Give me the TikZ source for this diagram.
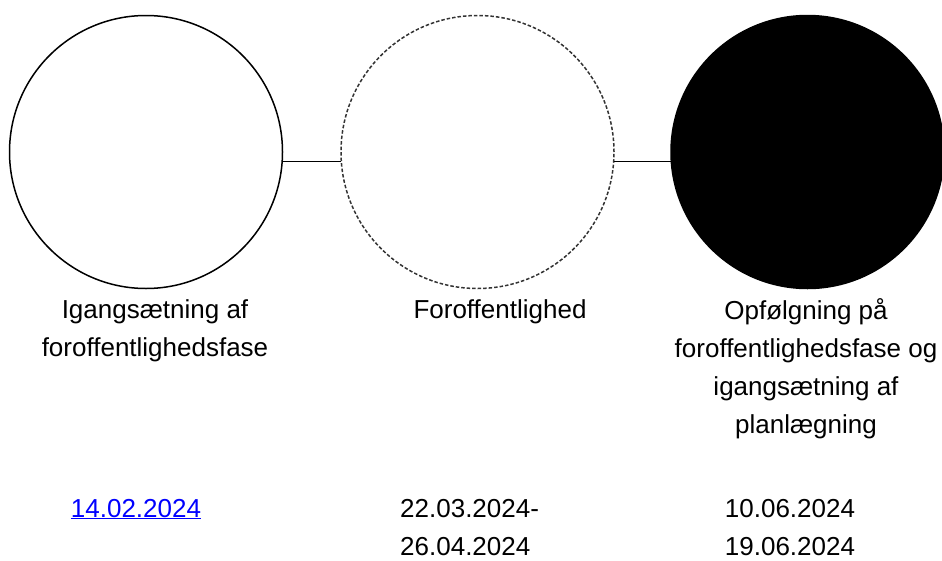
\documentclass[tikz,border=0pt]{standalone}
\usepackage{fontspec}
\setmainfont{Liberation Sans}
\definecolor{linkblue}{RGB}{0,0,255}
\begin{document}
\begin{tikzpicture}[x=1pt,y=-1pt,
  phase/.style={circle,minimum size=273pt,inner sep=0pt,line width=1.5pt},
  conn/.style={line width=1.5pt},
  lbl/.style={font=\fontsize{26}{37.7}\selectfont,inner sep=0pt,align=center,anchor=base},
  datelbl/.style={font=\fontsize{26}{38}\selectfont,inner sep=0pt,anchor=base}]
\useasboundingbox (0,0) rectangle (942,560);
\node[phase,draw=black] (c1) at (146,152) {};
\node[phase,draw=black!80,dash pattern=on 3.5pt off 2pt] (c2) at (477.5,152) {};
\node[phase,draw=black,fill=black] (c3) at (807.5,152) {};
\draw[conn] (c1.-4) -- (c2.184);
\draw[conn] (c2.-4) -- (c3.184);
\node[lbl] (t1) at (155,356) {Igangsætning af\\foroffentlighedsfase};
\node[lbl] (t2) at (500,318) {Foroffentlighed};
\node[lbl] (t3) at (806,433) {Opfølgning på\\foroffentlighedsfase og\\igangsætning af\\planlægning};
\node[datelbl,text=linkblue] (d1) at (136,517) {\underline{14.02.2024}};
\node[datelbl,align=left,anchor=base west] (d2) at (400,555) {22.03.2024-\\26.04.2024};
\node[datelbl,align=center] (d3) at (790,555) {10.06.2024\\19.06.2024};
\end{tikzpicture}
\end{document}
